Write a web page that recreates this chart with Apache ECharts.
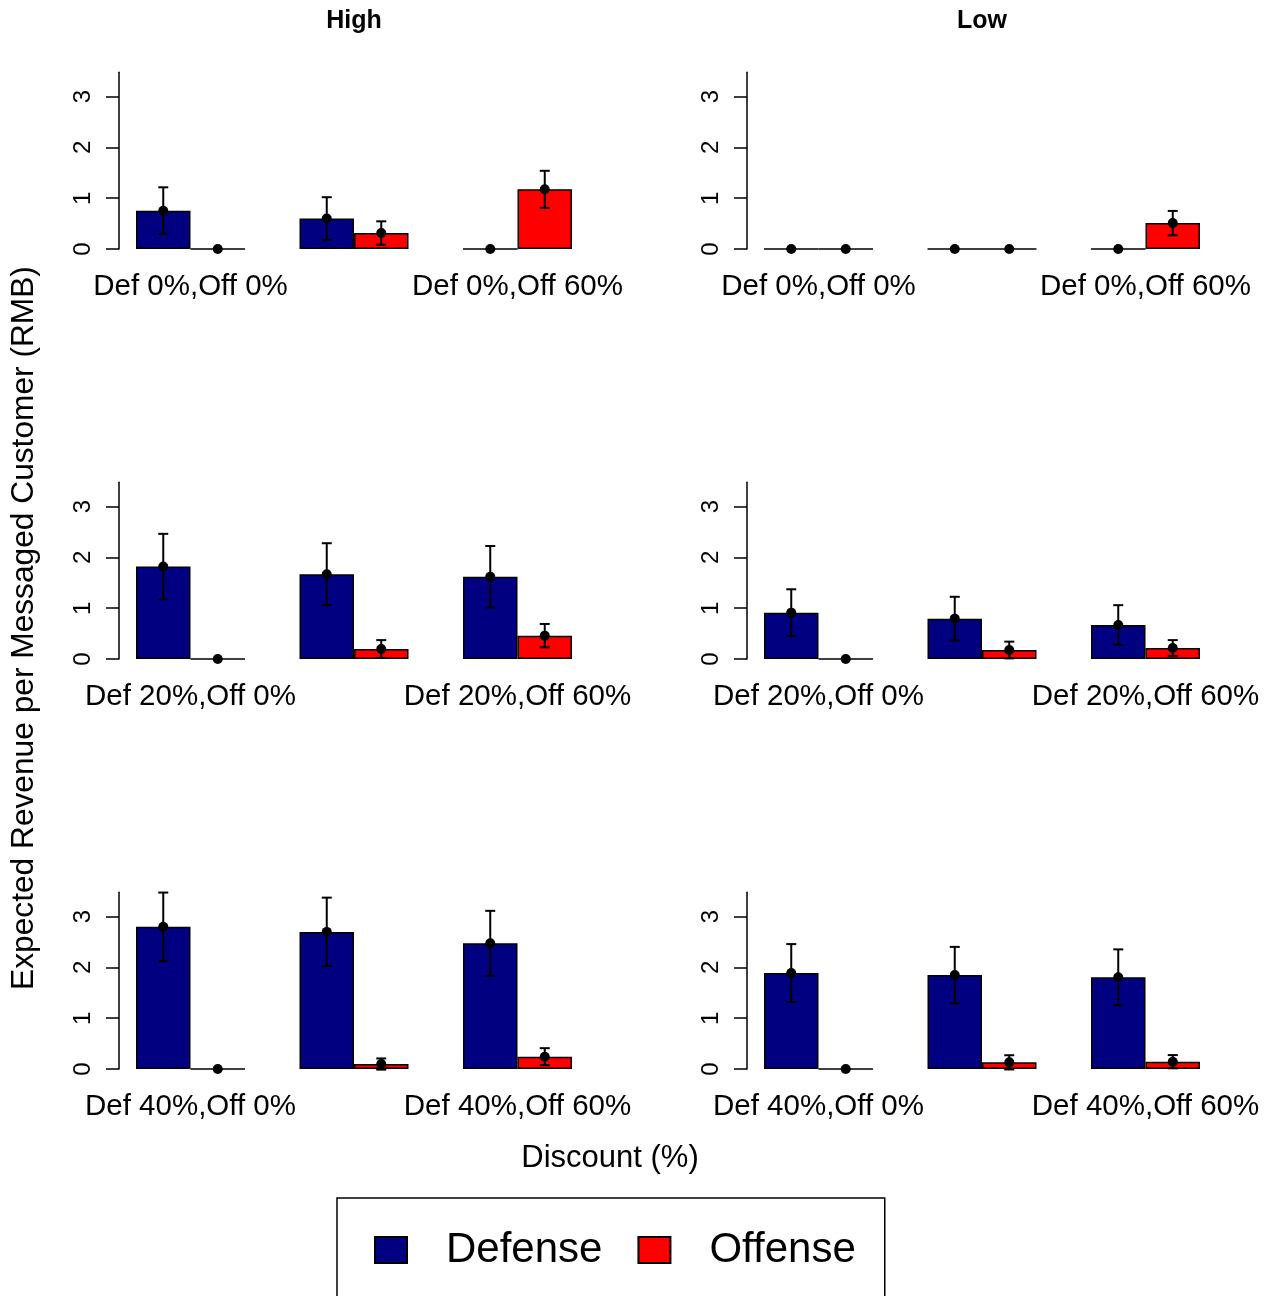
<!DOCTYPE html>
<html>
<head>
<meta charset="utf-8">
<script src="https://cdn.jsdelivr.net/npm/echarts@6/dist/echarts.min.js"></script>
<style>
  html, body { margin: 0; padding: 0; background: #fff; }
  #chart { width: 1274px; height: 1296px; }
</style>
</head>
<body>
<div id="chart"></div>
<script>
// Expected revenue per messaged customer (RMB), mean and standard error.
// Rows: defense discount 0%, 20%, 40%; within a row: offense discount groups.
const segments = ['High', 'Low'];
const seriesNames = ['Defense', 'Offense'];
const groupLabels = [
  ['Def 0%,Off 0%', '', 'Def 0%,Off 60%'],
  ['Def 20%,Off 0%', '', 'Def 20%,Off 60%'],
  ['Def 40%,Off 0%', '', 'Def 40%,Off 60%']
];
const yTicks = [0, 1, 2, 3];

const defenseHigh   = [[0.755, 0.60, 0], [1.82, 1.67, 1.62], [2.80, 2.70, 2.475]];
const defenseHighSE = [[0.46, 0.42, 0], [0.645, 0.61, 0.605], [0.675, 0.675, 0.64]];
const offenseHigh   = [[0, 0.315, 1.175], [0, 0.197, 0.46], [0, 0.098, 0.243]];
const offenseHighSE = [[0, 0.23, 0.365], [0, 0.175, 0.23], [0, 0.11, 0.167]];

const defenseLow   = [[0, 0, 0], [0.913, 0.795, 0.67], [1.89, 1.85, 1.806]];
const defenseLowSE = [[0, 0, 0], [0.46, 0.43, 0.39], [0.57, 0.555, 0.55]];
const offenseLow   = [[0, 0, 0.51], [0, 0.177, 0.217], [0, 0.131, 0.144]];
const offenseLowSE = [[0, 0, 0.24], [0, 0.165, 0.155], [0, 0.14, 0.13]];

const panelData = {
  High: { def: defenseHigh, defSE: defenseHighSE, off: offenseHigh, offSE: offenseHighSE },
  Low:  { def: defenseLow,  defSE: defenseLowSE,  off: offenseLow,  offSE: offenseLowSE }
};

// Panel geometry (px)
const FONT = "'Liberation Sans', Arial, Helvetica, sans-serif";
const NAVY = '#000080', RED = '#FF0000';
const Y_MAX = 3.48;
const colLeft = [108.75, 736.75];   // left edge of category band area
const bandArea = 490.5;            // 3 groups x 163.5 px
const axisX = [119, 747];          // y-axis line position
const rowTop = [72.3, 482.3, 892.3];
const rowHeight = 176.7;
const barW = 54.5;

const grids = [], xAxes = [], yAxes = [], series = [];

segments.forEach((seg, c) => {
  const d = panelData[seg];
  for (let r = 0; r < 3; r++) {
    const gi = grids.length;
    grids.push({ left: colLeft[c], top: rowTop[r], width: bandArea, height: rowHeight, containLabel: false });
    xAxes.push({
      type: 'category', gridIndex: gi, data: groupLabels[r],
      axisLine: { show: false }, axisTick: { show: false },
      axisLabel: { fontFamily: FONT, fontSize: 29.5, color: '#000', margin: 23, interval: 0 }
    });
    yAxes.push({
      type: 'value', gridIndex: gi, min: 0, max: Y_MAX, interval: 1,
      offset: colLeft[c] - axisX[c],
      splitLine: { show: false },
      axisLine: { show: true, lineStyle: { color: '#000', width: 1.5 } },
      axisTick: { show: true, length: 13, lineStyle: { color: '#000', width: 1.5 }, customValues: yTicks },
      axisLabel: {
        show: true, customValues: yTicks, rotate: 90, margin: 24,
        color: '#000', fontFamily: FONT, fontSize: 24,
        textStyle: { fontSize: 24 }
      }
    });
    const defVals = d.def[r], offVals = d.off[r];
    series.push({
      name: 'Defense', type: 'bar', xAxisIndex: gi, yAxisIndex: gi,
      data: defVals, barWidth: barW, barGap: '0%',
      itemStyle: { color: NAVY, borderColor: '#000', borderWidth: 1.5 },
      emphasis: { disabled: true }, silent: true
    });
    series.push({
      name: 'Offense', type: 'bar', xAxisIndex: gi, yAxisIndex: gi,
      data: offVals, barWidth: barW, barGap: '0%',
      itemStyle: { color: RED, borderColor: '#000', borderWidth: 1.5 },
      emphasis: { disabled: true }, silent: true
    });
    // mean points with +/- one standard error
    const errData = [];
    for (let i = 0; i < 3; i++) {
      errData.push([i, defVals[i], d.defSE[r][i], -1]);
      errData.push([i, offVals[i], d.offSE[r][i], 1]);
    }
    series.push({
      type: 'custom', xAxisIndex: gi, yAxisIndex: gi, data: errData, silent: true, z: 5,
      renderItem: (params, api) => {
        const ci = api.value(0), v = api.value(1), se = api.value(2), side = api.value(3);
        const band = api.size([1, 0])[0];
        const p = api.coord([ci, v]);
        const x = p[0] + side * band / 6;
        const children = [];
        const ls = { stroke: '#000', lineWidth: 2 };
        if (se > 0) {
          const yt = api.coord([ci, v + se])[1];
          const yb = api.coord([ci, v - se])[1];
          children.push({ type: 'line', shape: { x1: x, y1: yt, x2: x, y2: yb }, style: ls });
          children.push({ type: 'line', shape: { x1: x - 5, y1: yt, x2: x + 5, y2: yt }, style: ls });
          children.push({ type: 'line', shape: { x1: x - 5, y1: yb, x2: x + 5, y2: yb }, style: ls });
        }
        children.push({ type: 'circle', shape: { cx: x, cy: p[1], r: 5 }, style: { fill: '#000' } });
        return { type: 'group', children };
      }
    });
  }
});

const chart = echarts.init(document.getElementById('chart'), null, { renderer: 'canvas' });
chart.setOption({
  backgroundColor: '#fff',
  animation: false,
  grid: grids,
  xAxis: xAxes,
  yAxis: yAxes,
  series: series,
  legend: {
    data: seriesNames,
    left: 337, top: 1198,
    orient: 'horizontal',
    padding: [31, 29, 80, 37],
    borderColor: '#000', borderWidth: 1.5,
    itemWidth: 32, itemHeight: 26, itemGap: 35,
    icon: 'rect',
    selectedMode: false,
    textStyle: { fontFamily: FONT, fontSize: 42, color: '#000', padding: [5, 0, 0, 34] }
  },
  graphic: [
    { type: 'text', x: 354, y: 21, style: { text: segments[0], font: 'bold 25px ' + FONT, fill: '#000', align: 'center', verticalAlign: 'middle' } },
    { type: 'text', x: 982, y: 21, style: { text: segments[1], font: 'bold 25px ' + FONT, fill: '#000', align: 'center', verticalAlign: 'middle' } },
    { type: 'text', x: 24, y: 628, rotation: Math.PI / 2, style: { text: 'Expected Revenue per Messaged Customer (RMB)', font: '31.7px ' + FONT, fill: '#000', align: 'center', verticalAlign: 'middle' } },
    { type: 'text', x: 610, y: 1158, style: { text: 'Discount (%)', font: '31px ' + FONT, fill: '#000', align: 'center', verticalAlign: 'middle' } }
  ]
});
</script>
</body>
</html>
